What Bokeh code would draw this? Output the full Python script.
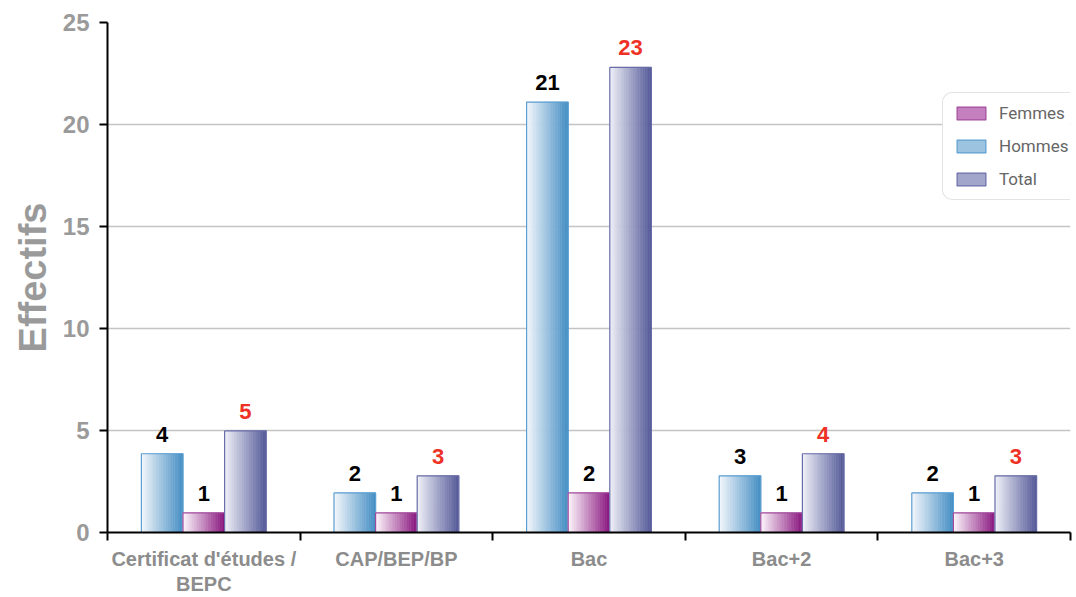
import numpy as np
from bokeh.plotting import figure
from bokeh.models import ColumnDataSource, Range1d, FixedTicker, Legend, LegendItem
from bokeh.core.properties import value
from bokeh.embed import file_html
from bokeh.resources import INLINE

# ---- data ----
categories = ["Certificat d'études /\nBEPC", "CAP/BEP/BP", "Bac", "Bac+2", "Bac+3"]
hommes = [3.86, 1.94, 21.1, 2.78, 1.94]
femmes = [0.96, 0.96, 1.94, 0.96, 0.96]
total = [4.98, 2.78, 22.8, 3.86, 2.78]
hommes_labels = ["4", "2", "21", "3", "2"]
femmes_labels = ["1", "1", "2", "1", "1"]
total_labels = ["5", "3", "23", "4", "3"]
y_ticks = [0, 5, 10, 15, 20, 25]

# ---- styles ----
BAR_W = 0.216
N_SLICES = 24
series_style = {
    "Hommes": dict(offset=-0.216, left=(242, 246, 251), right=(70, 143, 196), border="#5c9fd2",
                   text="black", legend_mid="#9cc3e0"),
    "Femmes": dict(offset=0.0, left=(252, 244, 250), right=(138, 24, 128), border="#a24a9c",
                   text="black", legend_mid="#c47fbe"),
    "Total": dict(offset=0.216, left=(238, 239, 247), right=(86, 91, 153), border="#6a6ea8",
                  text="#ee3124", legend_mid="#a3a6cb"),
}
series_data = {"Hommes": (hommes, hommes_labels),
               "Femmes": (femmes, femmes_labels),
               "Total": (total, total_labels)}

p = figure(width=1076, height=597, x_range=Range1d(0, 5), y_range=Range1d(0, 25),
           output_backend="svg", toolbar_location=None,
           min_border_left=107, min_border_right=6, min_border_top=22, min_border_bottom=63)
p.outline_line_color = None
p.background_fill_color = "white"
p.border_fill_color = "white"

# grid
p.xgrid.visible = False
p.ygrid.ticker = FixedTicker(ticks=y_ticks)
p.ygrid.grid_line_color = "#c4c4c4"
p.ygrid.grid_line_width = 1.6

legend_renderers = {}

def hex_of(c):
    return "#%02x%02x%02x" % tuple(int(round(v)) for v in c)

for name in ["Hommes", "Femmes", "Total"]:
    st = series_style[name]
    vals, labs = series_data[name]
    L, R, T, C = [], [], [], []
    for i, v in enumerate(vals):
        x0 = i + 0.5 + st["offset"] - BAR_W / 2
        for k in range(N_SLICES):
            t = k / (N_SLICES - 1)
            col = tuple(st["left"][j] + (st["right"][j] - st["left"][j]) * t for j in range(3))
            L.append(x0 + k * BAR_W / N_SLICES)
            R.append(x0 + (k + 1) * BAR_W / N_SLICES)
            T.append(v)
            C.append(hex_of(col))
    src = ColumnDataSource(dict(left=L, right=R, top=T, bottom=[0] * len(L), color=C))
    p.quad(left="left", right="right", top="top", bottom="bottom", source=src,
           fill_color="color", line_color="color", line_width=0.6)
    osrc = ColumnDataSource(dict(
        left=[i + 0.5 + st["offset"] - BAR_W / 2 for i in range(len(vals))],
        right=[i + 0.5 + st["offset"] + BAR_W / 2 for i in range(len(vals))],
        top=vals, bottom=[0] * len(vals)))
    p.quad(left="left", right="right", top="top", bottom="bottom", source=osrc,
           fill_color=None, line_color=st["border"], line_width=1.2)
    tsrc = ColumnDataSource(dict(x=[i + 0.5 + st["offset"] for i in range(len(vals))],
                                 y=vals, text=labs))
    p.text(x="x", y="y", text="text", source=tsrc, text_font=value("Liberation Sans"),
           text_font_style="bold", text_font_size="22px", text_color=st["text"],
           text_align="center", text_baseline="bottom", y_offset=-12)
    # legend proxy (no visible mark: NaN geometry)
    dsrc = ColumnDataSource(dict(left=[np.nan], right=[np.nan], top=[np.nan], bottom=[np.nan]))
    legend_renderers[name] = p.quad(left="left", right="right", top="top", bottom="bottom",
                                    source=dsrc, fill_color=st["legend_mid"],
                                    line_color=st["border"], line_width=1.2)

# x axis
xa = p.xaxis[0]
xa.ticker = FixedTicker(ticks=[i + 0.5 for i in range(len(categories))],
                        minor_ticks=list(range(len(categories) + 1)))
xa.major_label_overrides = {i + 0.5: c for i, c in enumerate(categories)}
xa.major_tick_out = 0
xa.major_tick_in = 0
xa.minor_tick_out = 8
xa.minor_tick_in = 0
xa.minor_tick_line_color = "black"
xa.minor_tick_line_width = 2
xa.axis_line_color = "black"
xa.axis_line_width = 2
xa.major_label_standoff = 7
xa.major_label_text_font = "Liberation Sans"
xa.major_label_text_font_style = "bold"
xa.major_label_text_font_size = "20px"
xa.major_label_text_color = "#8c8c8c"
xa.major_label_text_line_height = 1.15

# y axis
ya = p.yaxis[0]
ya.ticker = FixedTicker(ticks=y_ticks)
ya.major_tick_out = 8
ya.major_tick_in = 0
ya.major_tick_line_color = "black"
ya.major_tick_line_width = 2
ya.minor_tick_out = 0
ya.minor_tick_in = 0
ya.axis_line_color = "black"
ya.axis_line_width = 2
ya.major_label_standoff = 10
ya.major_label_text_font = "Liberation Sans"
ya.major_label_text_font_style = "bold"
ya.major_label_text_font_size = "24px"
ya.major_label_text_color = "#9a9a9a"
ya.axis_label = "Effectifs"
ya.axis_label_text_font = "Liberation Sans"
ya.axis_label_text_font_style = "bold"
ya.axis_label_text_font_size = "38px"
ya.axis_label_text_color = "#9a9a9a"
ya.axis_label_standoff = 6

legend = Legend(items=[LegendItem(label="Femmes", renderers=[legend_renderers["Femmes"]]),
                       LegendItem(label="Hommes", renderers=[legend_renderers["Hommes"]]),
                       LegendItem(label="Total", renderers=[legend_renderers["Total"]])],
                location=(835, 332))
legend.border_line_color = "#c8c8c8"
legend.border_line_width = 1.5
legend.border_radius = 10
legend.background_fill_color = "white"
legend.background_fill_alpha = 1
legend.label_text_font = "Roboto"
legend.label_text_font_size = "17px"
legend.label_text_color = "#666666"
legend.glyph_width = 36
legend.glyph_height = 16
legend.label_standoff = 10
legend.spacing = 13
legend.padding = 10
legend.margin = 0
p.add_layout(legend, "center")

open("out.html", "w").write(file_html(p, INLINE))
